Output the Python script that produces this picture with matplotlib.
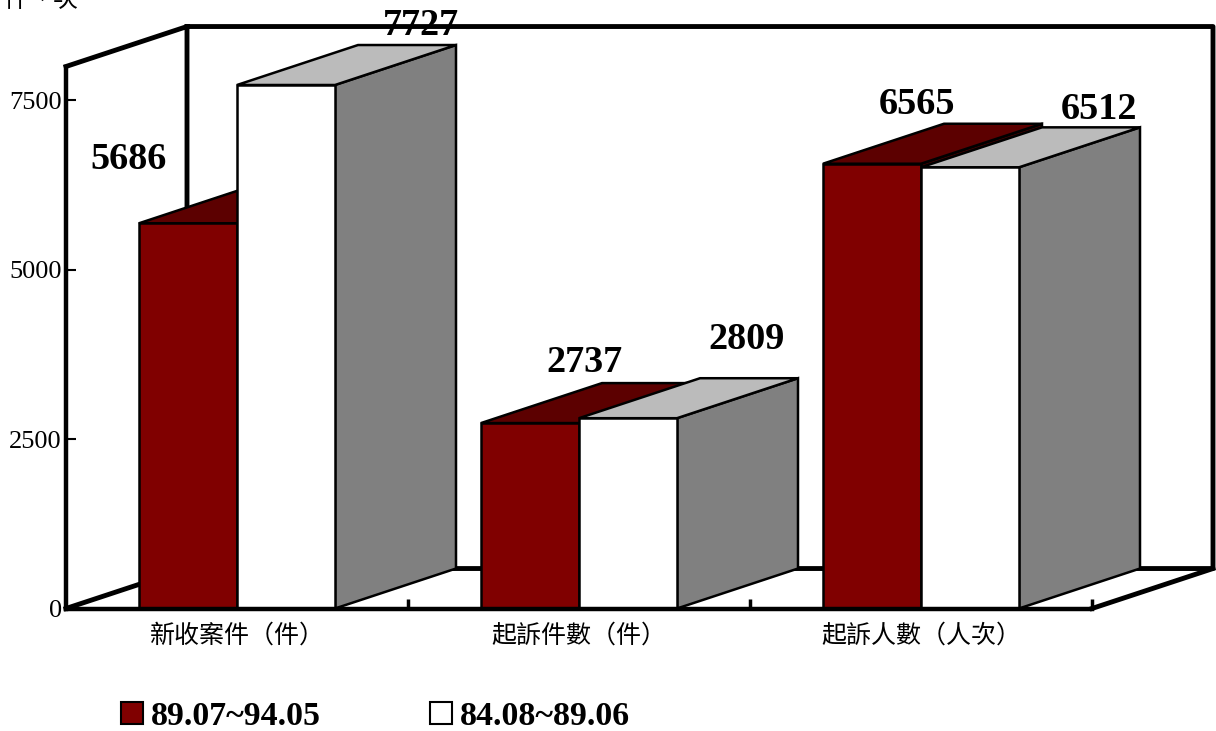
import numpy as np
import matplotlib
matplotlib.use("Agg")
import matplotlib.pyplot as plt
from matplotlib.patches import Patch

# values
categories = ["新收案件（件）", "起訴件數（件）", "起訴人數（人次）"]
series_new = [5686, 2737, 6565]
series_old = [7727, 2809, 6512]
series_names = ["89.07~94.05", "84.08~89.06"]
y_ticks = [0, 2500, 5000, 7500]

serif = "Liberation Serif"
cjk = "Noto Sans CJK TC"

# fake 3d depth, in axis units
depth_x = 121 / 342
depth_y = 590
bar_w = 98 / 342
bar_start = 73 / 342
y_top = 8000

# hand placed labels, pixels from the top front centre of each bar
new_offsets = [(-59, 64), (54, 61), (45, 59)]
old_offsets = [(135, 59), (119, 79), (129, 58)]


def draw_bar(ax, x, h, front, top, side):
    x2 = x + bar_w
    ax.fill([x2, x2 + depth_x, x2 + depth_x, x2], [0, depth_y, h + depth_y, h],
            fc=side, ec="black", lw=1.8, zorder=3, clip_on=False)
    ax.fill([x, x + depth_x, x2 + depth_x, x2], [h, h + depth_y, h + depth_y, h],
            fc=top, ec="black", lw=1.8, zorder=3, clip_on=False)
    ax.fill([x, x2, x2, x], [0, 0, h, h],
            fc=front, ec="black", lw=1.8, zorder=3, clip_on=False)


def bar_label(ax, x, h, off):
    ax.annotate(str(h), (x + bar_w / 2, h), xytext=(off[0] * 0.72, off[1] * 0.72),
                textcoords="offset points", ha="center", va="center",
                family=serif, weight="bold", fontsize=27.5, zorder=6,
                annotation_clip=False)


fig = plt.figure(figsize=(12.16, 7.31), dpi=100)
ax = fig.add_axes([66 / 1216, (731 - 608.5) / 731, 1026 / 1216, 542 / 731])
ax.set_xlim(0, 3)
ax.set_ylim(0, y_top)
ax.patch.set_alpha(0)

# walls and floor
frame = dict(color="black", lw=3.5, zorder=2, clip_on=False, solid_capstyle="projecting")
ax.plot([0, depth_x, 3 + depth_x, 3 + depth_x, depth_x, depth_x],
        [y_top, y_top + depth_y, y_top + depth_y, depth_y, depth_y, y_top + depth_y], **frame)
ax.plot([0, depth_x], [0, depth_y], **frame)
ax.plot([3, 3 + depth_x], [0, depth_y], **frame)

for i in range(len(categories)):
    x = i + bar_start
    draw_bar(ax, x, series_new[i], "#800000", "#5c0000", "#400000")
    draw_bar(ax, x + bar_w, series_old[i], "#ffffff", "#bbbbbb", "#808080")
    bar_label(ax, x, series_new[i], new_offsets[i])
    bar_label(ax, x + bar_w, series_old[i], old_offsets[i])

for name in ["top", "right"]:
    ax.spines[name].set_visible(False)
ax.spines["left"].set_linewidth(3.2)
ax.spines["bottom"].set_linewidth(3.2)
ax.spines["left"].set_zorder(5)
ax.spines["bottom"].set_zorder(5)

ax.set_yticks(y_ticks)
ax.set_yticklabels([str(t) for t in y_ticks], family=serif, fontsize=19)
ax.tick_params(axis="y", direction="in", length=7, width=1.5, pad=3)

ax.set_xticks(np.arange(len(categories)) + 0.5)
ax.set_xticklabels(categories, family=[cjk, "DejaVu Sans"], fontsize=18)
ax.tick_params(axis="x", which="major", length=0, pad=10)
ax.set_xticks([1, 2, 3], minor=True)
ax.tick_params(axis="x", which="minor", direction="in", length=7, width=2.5)

# y axis unit, cut off by the top of the picture in the original
fig.text(41 / 1216, 1 - 0 / 731, "件、次", family=[cjk, "DejaVu Sans"], fontsize=18,
         ha="center", va="center")

handles = [Patch(fc="#800000", ec="black", lw=1.5), Patch(fc="#ffffff", ec="black", lw=1.5)]
fig.legend(handles, series_names, ncol=2, frameon=False, loc="lower left",
           bbox_to_anchor=(121 / 1216, 1 - 732 / 731), borderpad=0, borderaxespad=0,
           handlelength=0.65, handleheight=0.62, handletextpad=0.24, columnspacing=3.2,
           prop=dict(family=serif, weight="bold", size=24.4))

fig.savefig("out.png", dpi=100)
